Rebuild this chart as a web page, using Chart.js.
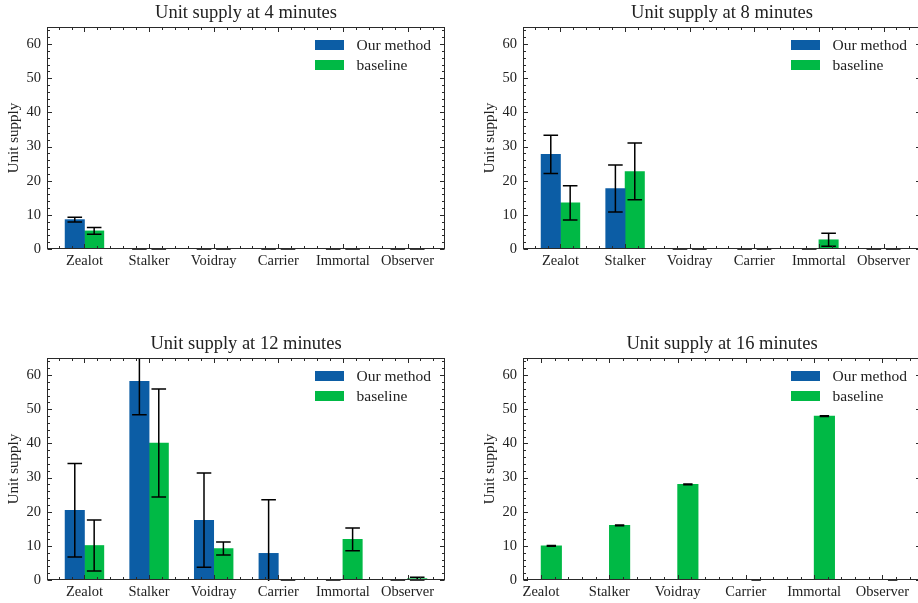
<!DOCTYPE html>
<html>
<head>
<meta charset="utf-8">
<title>Unit supply</title>
<script src="https://cdn.jsdelivr.net/npm/chart.js@4.4.1/dist/chart.umd.min.js"></script>
<style>
  html, body {
    margin: 0;
    padding: 0;
    background: #fff;
    width: 918px;
    height: 603px;
    overflow: hidden;
  }
  .panel {
    position: absolute;
  }
</style>
</head>
<body>
<div class="panel" style="left:0px;top:0px"><canvas id="c4" width="449" height="277"></canvas></div>
<div class="panel" style="left:476px;top:0px"><canvas id="c8" width="449" height="277"></canvas></div>
<div class="panel" style="left:0px;top:331px"><canvas id="c12" width="449" height="277"></canvas></div>
<div class="panel" style="left:476px;top:331px"><canvas id="c16" width="449" height="277"></canvas></div>

<script>
const UNITS = ["Zealot", "Stalker", "Voidray", "Carrier", "Immortal", "Observer"];
const Y_TICKS = [0, 10, 20, 30, 40, 50, 60];

const OURS_4 = [8.6, 0, 0, 0, 0, 0];
const OURS_4_ERR = [0.7, 0, 0, 0, 0, 0];
const BASE_4 = [5.3, 0, 0, 0, 0, 0];
const BASE_4_ERR = [1.0, 0, 0, 0, 0, 0];

const OURS_8 = [27.7, 17.7, 0, 0, 0, 0];
const OURS_8_ERR = [5.6, 6.9, 0, 0, 0, 0];
const BASE_8 = [13.5, 22.7, 0, 0, 2.7, 0];
const BASE_8_ERR = [5.0, 8.3, 0, 0, 1.9, 0];

const OURS_12 = [20.4, 58.2, 17.5, 7.8, 0, 0];
const OURS_12_ERR = [13.7, 9.8, 13.8, 15.7, 0, 0];
const BASE_12 = [10.1, 40.1, 9.2, 0, 11.9, 0.4];
const BASE_12_ERR = [7.5, 15.8, 1.9, 0, 3.3, 0.4];

// no runs for our method at 16 minutes
const OURS_16 = [null, null, null, null, null, null];
const OURS_16_ERR = [null, null, null, null, null, null];
const BASE_16 = [10.0, 16.0, 28.0, 0, 48.0, 0];
const BASE_16_ERR = [0.1, 0.1, 0.1, 0, 0.1, 0];

const BAR_W = 0.3;
const Y_MAX = 65;
const FONT = "'Liberation Serif', 'Times New Roman', serif";
const INK = "#222";

Chart.defaults.font.family = FONT;
Chart.defaults.color = INK;

function xLimits(ours, base) {
  const edges = [];
  ours.forEach((v, i) => {
    if (v !== null) edges.push(i - BAR_W, i);
  });
  base.forEach((v, i) => {
    if (v !== null) edges.push(i, i + BAR_W);
  });
  const lo = Math.min(...edges);
  const hi = Math.max(...edges);
  const pad = (hi - lo) * 0.05;
  return [lo - pad, hi + pad];
}

const errorBars = {
  id: "errorBars",
  afterDatasetsDraw(chart, args, opts) {
    const { ctx, chartArea: a, scales } = chart;
    ctx.save();
    ctx.beginPath();
    ctx.rect(a.left, a.top, a.right - a.left, a.bottom - a.top + 1);
    ctx.clip();
    ctx.strokeStyle = "#000";
    ctx.lineWidth = 1.5;
    chart.data.datasets.forEach((ds, d) => {
      const meta = chart.getDatasetMeta(d);
      ds.data.forEach((pt, i) => {
        const e = ds.errors[i];
        if (pt.y === null || e === null) return;
        const x = meta.data[i].x;
        const yHi = scales.y.getPixelForValue(pt.y + e);
        const yLo = scales.y.getPixelForValue(pt.y - e);
        ctx.beginPath();
        ctx.moveTo(x, yHi);
        ctx.lineTo(x, yLo);
        ctx.moveTo(x - opts.cap, yHi);
        ctx.lineTo(x + opts.cap, yHi);
        ctx.moveTo(x - opts.cap, yLo);
        ctx.lineTo(x + opts.cap, yLo);
        ctx.stroke();
      });
    });
    ctx.restore();
  },
};

const insideLegend = {
  id: "insideLegend",
  afterDraw(chart) {
    const { ctx, chartArea: a } = chart;
    ctx.save();
    ctx.font = `15.5px ${FONT}`;
    ctx.textBaseline = "middle";
    ctx.textAlign = "left";
    chart.data.datasets.forEach((ds, d) => {
      const top = a.top + 13 + d * 20;
      ctx.fillStyle = ds.backgroundColor;
      ctx.fillRect(a.left + 268, top, 29, 10);
      ctx.fillStyle = INK;
      ctx.fillText(ds.label, a.left + 309.5, top + 5.5);
    });
    ctx.restore();
  },
};

const frame = {
  id: "frame",
  afterDraw(chart) {
    const { ctx, chartArea: a, scales } = chart;
    const L = Math.round(a.left) + 0.5;
    const R = Math.round(a.right) - 0.5;
    const T = Math.round(a.top) + 0.5;
    const B = Math.round(a.bottom) - 0.5;
    ctx.save();
    ctx.strokeStyle = "#2a2a2a";
    ctx.lineWidth = 1;
    ctx.beginPath();
    for (let v = 0; v <= Y_MAX; v += 2) {
      const y = Math.round(scales.y.getPixelForValue(v)) + 0.5;
      const len = v % 10 === 0 ? 4.5 : 2.5;
      ctx.moveTo(L, y);
      ctx.lineTo(L + len, y);
      ctx.moveTo(R, y);
      ctx.lineTo(R - len, y);
    }
    const xs = scales.x;
    for (let k = Math.ceil(xs.min * 5); k <= Math.floor(xs.max * 5); k++) {
      const x = Math.round(xs.getPixelForValue(k / 5)) + 0.5;
      const len = k % 5 === 0 ? 4.5 : 2.5;
      ctx.moveTo(x, B);
      ctx.lineTo(x, B - len);
      ctx.moveTo(x, T);
      ctx.lineTo(x, T + len);
    }
    ctx.stroke();
    ctx.strokeRect(L, T, R - L, B - T);
    ctx.restore();
  },
};

function makeChart(id, minutes, ours, oursErr, base, baseErr, cap) {
  const [xMin, xMax] = xLimits(ours, base);
  return new Chart(document.getElementById(id), {
    type: "bar",
    data: {
      datasets: [
        {
          label: "Our method",
          data: ours.map((v, i) => ({ x: i - BAR_W / 2, y: v })),
          errors: oursErr,
          backgroundColor: "#0C5DA5",
        },
        {
          label: "baseline",
          data: base.map((v, i) => ({ x: i + BAR_W / 2, y: v })),
          errors: baseErr,
          backgroundColor: "#00B945",
        },
      ],
    },
    options: {
      responsive: false,
      animation: false,
      devicePixelRatio: 1,
      layout: { padding: { left: 0, right: 4, top: 0, bottom: 0 } },
      datasets: {
        bar: { grouped: false, barPercentage: 1, categoryPercentage: 1, borderWidth: 0 },
      },
      plugins: {
        legend: { display: false },
        tooltip: { enabled: false },
        title: {
          display: true,
          fullSize: false,
          text: `Unit supply at ${minutes} minutes`,
          color: INK,
          font: { size: 18.5, weight: "normal", lineHeight: 1.2 },
          padding: { top: 1.8, bottom: 3 },
        },
        errorBars: { cap },
      },
      scales: {
        x: {
          type: "linear",
          offset: false,
          min: xMin,
          max: xMax,
          grid: { display: false, drawTicks: false },
          border: { display: false },
          afterBuildTicks: (s) => {
            s.ticks = UNITS.map((_, i) => ({ value: i }));
          },
          afterFit: (s) => {
            s.height = 28;
          },
          ticks: {
            autoSkip: false,
            maxRotation: 0,
            minRotation: 0,
            padding: 3,
            color: INK,
            font: { size: 14.5 },
            callback: (v) => UNITS[v],
          },
        },
        y: {
          min: 0,
          max: Y_MAX,
          grid: { display: false, drawTicks: false },
          border: { display: false },
          afterBuildTicks: (s) => {
            s.ticks = Y_TICKS.map((v) => ({ value: v }));
          },
          afterFit: (s) => {
            s.width = 47;
          },
          ticks: { padding: 6, color: INK, font: { size: 14.5 } },
          title: {
            display: true,
            text: "Unit supply",
            color: INK,
            font: { size: 15 },
            padding: { top: 5, bottom: 0 },
          },
        },
      },
    },
    plugins: [errorBars, insideLegend, frame],
  });
}

makeChart("c4", 4, OURS_4, OURS_4_ERR, BASE_4, BASE_4_ERR, 7.3);
makeChart("c8", 8, OURS_8, OURS_8_ERR, BASE_8, BASE_8_ERR, 7.3);
makeChart("c12", 12, OURS_12, OURS_12_ERR, BASE_12, BASE_12_ERR, 7.3);
makeChart("c16", 16, OURS_16, OURS_16_ERR, BASE_16, BASE_16_ERR, 4.7);
</script>
</body>
</html>
